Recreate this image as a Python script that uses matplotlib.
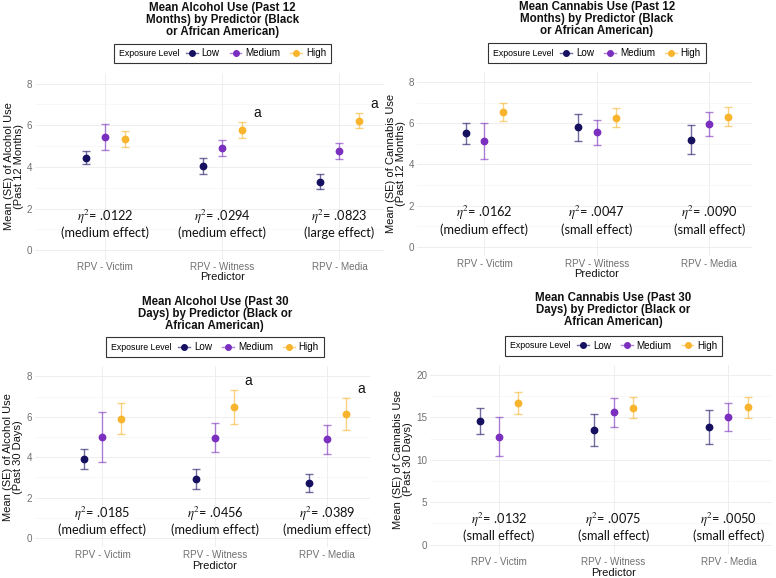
import os
import matplotlib
matplotlib.use("Agg")
import matplotlib.pyplot as plt
import matplotlib.transforms as mtransforms
import matplotlib.font_manager as fm
from matplotlib.lines import Line2D
from matplotlib.offsetbox import HPacker
from matplotlib.ticker import MultipleLocator
from matplotlib.colors import to_rgba

plt.rcParams['mathtext.fontset'] = 'stix'

# locate the normal-width Liberation Sans files explicitly
_paths = {os.path.basename(f.fname).lower(): f.fname for f in fm.fontManager.ttflist}
REG = _paths.get('liberationsans-regular.ttf')
BOLD = _paths.get('liberationsans-bold.ttf')


def fp(size, bold=False):
    path = BOLD if bold else REG
    if path:
        return fm.FontProperties(fname=path, size=size)
    return fm.FontProperties(family='DejaVu Sans', size=size,
                             weight='bold' if bold else 'normal')


W, H = 776, 578

predictors = ["RPV - Victim", "RPV - Witness", "RPV - Media"]
levels = ["Low", "Medium", "High"]
level_colors = ["#15105f", "#7b2fbf", "#f7b42c"]

# ---- Alcohol use, past 12 months (rows: Low, Medium, High; cols: predictors)
alc12_mean = [[4.45, 4.05, 3.28], [5.45, 4.93, 4.78], [5.35, 5.77, 6.22]]
alc12_se = [[0.32, 0.38, 0.36], [0.62, 0.38, 0.38], [0.37, 0.38, 0.36]]
alc12_eta = [".0122", ".0294", ".0823"]
alc12_effect = ["medium effect", "medium effect", "large effect"]
alc12_sig = ["", "a", "a"]

# ---- Cannabis use, past 12 months
can12_mean = [[5.50, 5.80, 5.20], [5.15, 5.55, 5.97], [6.55, 6.27, 6.30]]
can12_se = [[0.52, 0.66, 0.69], [0.87, 0.62, 0.58], [0.45, 0.46, 0.46]]
can12_eta = [".0162", ".0047", ".0090"]
can12_effect = ["medium effect", "small effect", "small effect"]
can12_sig = ["", "", ""]

# ---- Alcohol use, past 30 days
alc30_mean = [[3.90, 2.92, 2.72], [5.00, 4.97, 4.89], [5.91, 6.49, 6.15]]
alc30_se = [[0.49, 0.51, 0.43], [1.26, 0.71, 0.72], [0.78, 0.86, 0.80]]
alc30_eta = [".0185", ".0456", ".0389"]
alc30_effect = ["medium effect", "medium effect", "medium effect"]
alc30_sig = ["", "a", "a"]

# ---- Cannabis use, past 30 days
can30_mean = [[14.60, 13.50, 13.90], [12.75, 15.60, 15.05], [16.70, 16.15, 16.20]]
can30_se = [[1.52, 1.87, 2.00], [2.35, 1.70, 1.65], [1.25, 1.25, 1.25]]
can30_eta = [".0132", ".0075", ".0050"]
can30_effect = ["small effect", "small effect", "small effect"]
can30_sig = ["", "", ""]

yticks_8 = [0, 2, 4, 6, 8]
yticks_20 = [0, 5, 10, 15, 20]

fig = plt.figure(figsize=(W / 100, H / 100), dpi=100)
fig.patch.set_facecolor("white")

panels = [
    dict(mean=alc12_mean, se=alc12_se, eta=alc12_eta, eff=alc12_effect, sig=alc12_sig,
         title="Mean Alcohol Use (Past 12\nMonths) by Predictor (Black\nor African American)",
         ylabel="Mean (SE) of Alcohol Use\n(Past 12 Months)", yticks=yticks_8,
         box=(35, 73.2, 384, 259.7), ylim=(-0.45, 8.5), eta_y=1.28,
         title_y=19.5, leg_y=53.5, ylab_x=14.3, xlab_y=277, minor=1),
    dict(mean=can12_mean, se=can12_se, eta=can12_eta, eff=can12_effect, sig=can12_sig,
         title="Mean Cannabis Use (Past 12\nMonths) by Predictor (Black\nor African American)",
         ylabel="Mean (SE) of Cannabis Use\n(Past 12 Months)", yticks=yticks_8,
         box=(417, 71.6, 752, 256), ylim=(-0.45, 8.5), eta_y=1.30,
         title_y=19, leg_y=53, ylab_x=395.5, xlab_y=274, minor=1),
    dict(mean=alc30_mean, se=alc30_se, eta=alc30_eta, eff=alc30_effect, sig=alc30_sig,
         title="Mean Alcohol Use (Past 30\nDays) by Predictor (Black or\nAfrican American)",
         ylabel="Mean (SE) of Alcohol Use\n(Past 30 Days)", yticks=yticks_8,
         box=(35, 366.3, 370, 547), ylim=(-0.45, 8.5), eta_y=0.875,
         title_y=313.5, leg_y=347.3, ylab_x=13.3, xlab_y=565.7, minor=1),
    dict(mean=can30_mean, se=can30_se, eta=can30_eta, eff=can30_effect, sig=can30_sig,
         title="Mean Cannabis Use (Past 30\nDays) by Predictor (Black or\nAfrican American)",
         ylabel="Mean (SE) of Cannabis Use\n(Past 30 Days)", yticks=yticks_20,
         box=(430, 364.9, 772, 554), ylim=(-1.1, 21.2), eta_y=2.19,
         title_y=310, leg_y=345.7, ylab_x=402.5, xlab_y=573, minor=2.5),
]

dodge = [-1 / 6, 0, 1 / 6]


def horizontal_title(leg):
    vp = leg._legend_box
    title_box, handle_box = vp.get_children()[:2]
    hp = HPacker(pad=vp.pad, sep=5, align="center", children=[title_box, handle_box])
    hp.set_figure(fig)
    hp.axes = leg.axes
    leg._legend_box = hp
    leg._set_loc(leg._loc)


for p in panels:
    x0, y0, x1, y1 = p["box"]
    ax = fig.add_axes([x0 / W, 1 - y1 / H, (x1 - x0) / W, (y1 - y0) / H])
    ax.set_facecolor("white")
    for s in ax.spines.values():
        s.set_visible(False)
    ax.set_xlim(0.4, 3.38)
    ax.set_ylim(*p["ylim"])
    ax.set_xticks([1, 2, 3])
    ax.set_xticklabels(predictors)
    ax.set_yticks(p["yticks"])
    ax.yaxis.set_minor_locator(MultipleLocator(p["minor"]))
    ax.tick_params(axis="both", which="both", length=0)
    ax.tick_params(axis="x", labelcolor="#707070", pad=2)
    ax.tick_params(axis="y", labelcolor="#707070", pad=2)
    for lbl in ax.get_xticklabels() + ax.get_yticklabels():
        lbl.set_fontproperties(fp(7.1))
    ax.grid(True, which="major", color="#ebebeb", lw=0.6)
    ax.grid(True, which="minor", axis="y", color="#f4f4f4", lw=0.4)
    ax.set_axisbelow(True)

    for li, lev in enumerate(levels):
        xs = [i + 1 + dodge[li] for i in range(len(predictors))]
        c = level_colors[li]
        ax.errorbar(xs, p["mean"][li], yerr=p["se"][li], fmt="none",
                    ecolor=to_rgba(c, 0.6), elinewidth=1.0, capsize=3, capthick=1.0, zorder=3)
        ax.plot(xs, p["mean"][li], "o", color=c, ms=4.6, zorder=4)

    for i in range(len(predictors)):
        ax.text(i + 1, p["eta_y"], "$\\eta^2$= " + p["eta"][i] + "\n(" + p["eff"][i] + ")",
                ha="center", va="center", fontsize=9.2, family=["Lato", "DejaVu Sans"],
                linespacing=1.05, color="#111111", zorder=5)
        if p["sig"][i]:
            ax.text(i + 1 + 0.3, p["mean"][2][i] + p["se"][2][i] + 0.42, p["sig"][i],
                    ha="center", va="center", fontproperties=fp(10), color="#111111")

    tr_x = mtransforms.blended_transform_factory(ax.transData, fig.transFigure)
    ax.text(2, 1 - p["title_y"] / H, p["title"], transform=tr_x, ha="center", va="center",
            fontproperties=fp(8.3, bold=True), linespacing=1.0, color="#111111")
    ax.text(2, 1 - p["xlab_y"] / H, "Predictor", transform=tr_x, ha="center", va="center",
            fontproperties=fp(8), color="#111111")
    tr_y = mtransforms.blended_transform_factory(fig.transFigure, ax.transAxes)
    ax.text(p["ylab_x"] / W, 0.5, p["ylabel"], transform=tr_y, ha="center", va="center",
            rotation=90, fontproperties=fp(8), linespacing=1.0, color="#111111",
            multialignment="center")

    handles = [Line2D([0], [0], color=to_rgba(c, 0.6), lw=1, marker="o", ms=4,
                      markerfacecolor=c, markeredgecolor=c) for c in level_colors]
    leg = ax.legend(handles, levels, loc="center", bbox_to_anchor=(2, 1 - p["leg_y"] / H),
                    bbox_transform=tr_x, ncol=3, title="Exposure Level", frameon=True,
                    fancybox=False, edgecolor="#333333", framealpha=1, prop=fp(7.1),
                    title_fontproperties=fp(6.3), handlelength=1.2, handletextpad=0.4,
                    columnspacing=1.0, borderpad=0.5, borderaxespad=0)
    leg.get_frame().set_linewidth(0.8)
    horizontal_title(leg)

fig.savefig("out.png", dpi=100, facecolor="white")
